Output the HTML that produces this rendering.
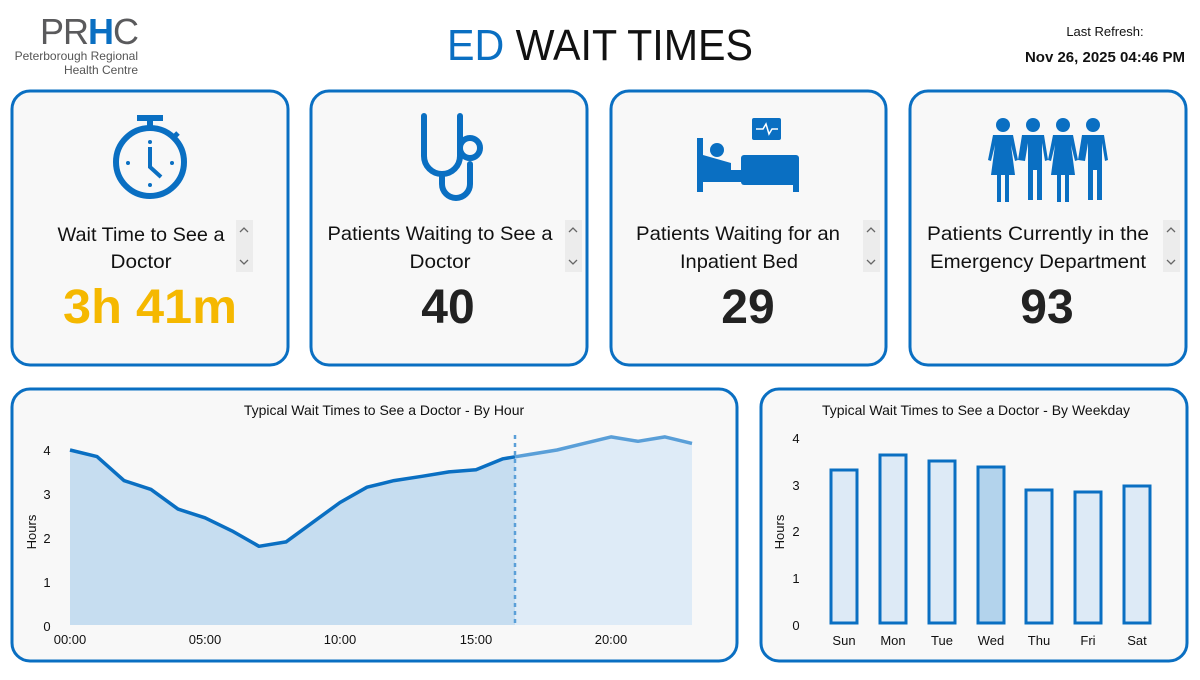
<!DOCTYPE html>
<html><head><meta charset="utf-8"><style>
html,body{margin:0;padding:0;background:#fff;}
body{width:1200px;height:675px;overflow:hidden;font-family:"Liberation Sans",sans-serif;}
</style></head><body>
<svg width="1200" height="675" viewBox="0 0 1200 675" xmlns="http://www.w3.org/2000/svg" font-family="Liberation Sans, sans-serif">
<rect width="1200" height="675" fill="#fff"/>
<!-- logo -->
<text x="40" y="44" font-size="36" fill="#5a5a5c" letter-spacing="-1">PR<tspan fill="#0a6fc2" font-weight="bold">H</tspan>C</text>
<text x="138" y="60" font-size="12" fill="#555" text-anchor="end">Peterborough Regional</text>
<text x="138" y="74" font-size="12" fill="#555" text-anchor="end">Health Centre</text>
<!-- title -->
<text x="600" y="60" font-size="44" text-anchor="middle" fill="#111" textLength="306" lengthAdjust="spacingAndGlyphs"><tspan fill="#0a6fc2">ED</tspan> WAIT TIMES</text>
<text x="1105" y="36" font-size="13" text-anchor="middle" fill="#111">Last Refresh:</text>
<text x="1105" y="62" font-size="15" font-weight="bold" text-anchor="middle" fill="#111">Nov 26, 2025 04:46 PM</text>

<!-- cards -->
<g fill="#f8f8f8" stroke="#0a6fc2" stroke-width="3">
<rect x="12" y="91" width="276" height="274" rx="18"/>
<rect x="311" y="91" width="276" height="274" rx="18"/>
<rect x="611" y="91" width="275" height="274" rx="18"/>
<rect x="910" y="91" width="276" height="274" rx="18"/>
<rect x="12" y="389" width="725" height="272" rx="18"/>
<rect x="761" y="389" width="426" height="272" rx="18"/>
</g>
<!-- scrollbars -->
<g fill="#ececec"><rect x="236" y="220" width="17" height="52"/><rect x="565" y="220" width="17" height="52"/><rect x="863" y="220" width="17" height="52"/><rect x="1163" y="220" width="17" height="52"/></g>
<g fill="none" stroke="#666" stroke-width="1.3">
<path d="M240 232l4-4 4 4M240 260l4 4 4-4"/><path d="M569 232l4-4 4 4M569 260l4 4 4-4"/><path d="M867 232l4-4 4 4M867 260l4 4 4-4"/><path d="M1167 232l4-4 4 4M1167 260l4 4 4-4"/>
</g>

<!-- stopwatch -->
<g stroke="#0a6fc2" fill="none" stroke-width="6">
<circle cx="150" cy="162" r="34"/>
</g>
<rect x="137" y="115" width="26" height="6" fill="#0a6fc2"/>
<rect x="147" y="120" width="6" height="10" fill="#0a6fc2"/>
<line x1="173" y1="138" x2="178" y2="133" stroke="#0a6fc2" stroke-width="5"/>
<path d="M150 147v20l11 10" stroke="#0a6fc2" stroke-width="4" fill="none"/>
<g fill="#0a6fc2"><circle cx="150" cy="142" r="2"/><circle cx="128" cy="163" r="2"/><circle cx="172" cy="163" r="2"/><circle cx="150" cy="185" r="2"/></g>

<!-- stethoscope -->
<g stroke="#0a6fc2" fill="none" stroke-width="6" stroke-linecap="round">
<path d="M424 116v40a18 18 0 0 0 36 0v-40"/>
<path d="M442 174v10a14 14 0 0 0 28 0v-20"/>
<circle cx="470" cy="148" r="10"/>
</g>

<!-- bed -->
<g fill="#0a6fc2">
<rect x="697" y="138" width="6" height="54"/>
<circle cx="717" cy="150" r="7"/>
<path d="M703 155l28 8 0 14h-28z"/>
<rect x="741" y="155" width="58" height="30" rx="3"/>
<rect x="703" y="170" width="96" height="12"/>
<rect x="793" y="180" width="6" height="12"/>
<rect x="752" y="118" width="29" height="22" rx="2"/>
</g>
<path d="M756 129h7l3-5 3 10 3-5h6" stroke="#fff" stroke-width="1.5" fill="none"/>

<!-- people -->
<g fill="#0a6fc2">
<circle cx="1003" cy="125" r="7"/><circle cx="1033" cy="125" r="7"/><circle cx="1063" cy="125" r="7"/><circle cx="1093" cy="125" r="7"/>
<path d="M988 160l5-25h20l5 25-3 1-4-16 4 30h-6v27h-4v-27h-4v27h-4v-27h-6l4-30-4 16z"/>
<path d="M1018 160l4-25h22l4 25-3 1-3-18v57h-5v-30h-4v30h-5v-57l-3 18z"/>
<path d="M1048 160l5-25h20l5 25-3 1-4-16 4 30h-6v27h-4v-27h-4v27h-4v-27h-6l4-30-4 16z"/>
<path d="M1078 160l4-25h22l4 25-3 1-3-18v57h-5v-30h-4v30h-5v-57l-3 18z"/>
</g>

<!-- card labels -->
<g font-size="19.5" fill="#111" text-anchor="middle">
<text x="141" y="241" textLength="167" lengthAdjust="spacingAndGlyphs">Wait Time to See a</text><text x="141" y="268" textLength="61" lengthAdjust="spacingAndGlyphs">Doctor</text>
<text x="440" y="240" textLength="225" lengthAdjust="spacingAndGlyphs">Patients Waiting to See a</text><text x="440" y="268" textLength="61" lengthAdjust="spacingAndGlyphs">Doctor</text>
<text x="738" y="240" textLength="204" lengthAdjust="spacingAndGlyphs">Patients Waiting for an</text><text x="739" y="268" textLength="118" lengthAdjust="spacingAndGlyphs">Inpatient Bed</text>
<text x="1038" y="240" textLength="222" lengthAdjust="spacingAndGlyphs">Patients Currently in the</text><text x="1038" y="268" textLength="216" lengthAdjust="spacingAndGlyphs">Emergency Department</text>
</g>
<g font-size="48" font-weight="bold" text-anchor="middle">
<text x="150" y="323" fill="#f5b800" textLength="174" lengthAdjust="spacingAndGlyphs">3h 41m</text>
<text x="448" y="323" fill="#222">40</text>
<text x="748" y="323" fill="#222">29</text>
<text x="1047" y="323" fill="#222">93</text>
</g>

<!-- line chart -->
<text x="384" y="415" font-size="14" text-anchor="middle" fill="#111">Typical Wait Times to See a Doctor - By Hour</text>
<path d="M515 456.8 L530 454.4 557 450 584 443.4 611 436.9 638 441.3 665 436.9 692 443.4 L692 625 515 625Z" fill="#deebf7"/>
<path d="M70 450 L97 456.6 124 480.6 151 489.4 178 509.1 205 517.8 232 530.9 259 546.3 286 541.9 313 522.2 340 502.5 367 487.2 394 480.6 422 476.3 449 471.9 476 469.7 503 458.8 515 456.8 L515 625 70 625Z" fill="#c6ddf0"/>
<polyline points="70,450 97,456.6 124,480.6 151,489.4 178,509.1 205,517.8 232,530.9 259,546.3 286,541.9 313,522.2 340,502.5 367,487.2 394,480.6 422,476.3 449,471.9 476,469.7 503,458.8 515,456.8" fill="none" stroke="#0a6fc2" stroke-width="3.5" stroke-linejoin="round"/>
<polyline points="515,456.8 530,454.4 557,450 584,443.4 611,436.9 638,441.3 665,436.9 692,443.4" fill="none" stroke="#5a9fd8" stroke-width="3.5" stroke-linejoin="round"/>
<line x1="515" y1="435" x2="515" y2="626" stroke="#5a9fd8" stroke-width="2.5" stroke-dasharray="4,4"/>
<g font-size="13" fill="#111" text-anchor="middle">
<text x="47" y="455">4</text><text x="47" y="499">3</text><text x="47" y="543">2</text><text x="47" y="587">1</text><text x="47" y="631">0</text>
<text x="70" y="644">00:00</text><text x="205" y="644">05:00</text><text x="340" y="644">10:00</text><text x="476" y="644">15:00</text><text x="611" y="644">20:00</text>
<text transform="translate(36,532) rotate(-90)">Hours</text>
</g>

<!-- bar chart -->
<text x="976" y="415" font-size="14" text-anchor="middle" fill="#111">Typical Wait Times to See a Doctor - By Weekday</text>
<g stroke="#0a6fc2" stroke-width="3" fill="#ddeaf6">
<rect x="831" y="470" width="26" height="153"/>
<rect x="880" y="455" width="26" height="168"/>
<rect x="929" y="461" width="26" height="162"/>
<rect x="978" y="467" width="26" height="156" fill="#b3d3ec"/>
<rect x="1026" y="490" width="26" height="133"/>
<rect x="1075" y="492" width="26" height="131"/>
<rect x="1124" y="486" width="26" height="137"/>
</g>
<g font-size="13" fill="#111" text-anchor="middle">
<text x="796" y="443">4</text><text x="796" y="490">3</text><text x="796" y="536">2</text><text x="796" y="583">1</text><text x="796" y="630">0</text>
<text x="844" y="645">Sun</text><text x="893" y="645">Mon</text><text x="942" y="645">Tue</text><text x="991" y="645">Wed</text><text x="1039" y="645">Thu</text><text x="1088" y="645">Fri</text><text x="1137" y="645">Sat</text>
<text transform="translate(784,532) rotate(-90)">Hours</text>
</g>
</svg>
</body></html>
